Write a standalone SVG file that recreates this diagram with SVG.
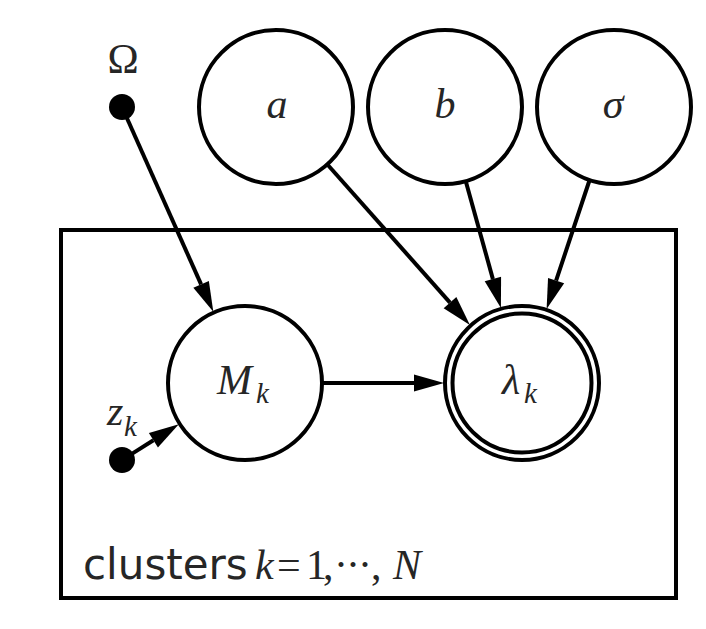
<svg xmlns="http://www.w3.org/2000/svg" width="706" height="629" viewBox="0 0 706 629">
<style>
.node{fill:#fff;stroke:#000;stroke-width:4}
.dot{fill:#000}
.edge{stroke:#000;stroke-width:4;fill:none;marker-end:url(#ah)}
.m{font-family:"Liberation Serif",serif;font-style:italic;font-size:42px;fill:#262626}
.r{font-family:"Liberation Serif",serif;font-size:42px;fill:#262626}
.s{font-family:"Liberation Serif",serif;font-style:italic;font-size:29px;fill:#262626}
.lab{font-family:"DejaVu Sans",sans-serif;font-size:42px;fill:#262626}
</style>
<defs>
<marker id="ah" markerUnits="userSpaceOnUse" markerWidth="32" markerHeight="20" refX="0" refY="8.5" orient="auto" overflow="visible">
<path d="M0,0 L30,8.5 L0,17 Z" fill="#000"/>
</marker>
</defs>
<rect width="706" height="629" fill="#fff"/>
<g id="plate">
<rect x="61" y="230" width="615" height="368" fill="none" stroke="#000" stroke-width="4"/>
<text class="lab" x="83" y="579">clusters</text>
<text class="m" x="255" y="579">k</text>
<text class="r" x="277 306 323 334 346 358 371" y="579">=1,···,</text>
<text class="m" x="393" y="579" font-size="46">N</text>
</g>
<g id="edges">
<line class="edge" x1="126.9" y1="118" x2="201.1" y2="284.4"/>
<line class="edge" x1="132.2" y1="453.6" x2="153.4" y2="440.3"/>
<line class="edge" x1="323" y1="383" x2="414" y2="383"/>
<line class="edge" x1="327" y1="164" x2="450" y2="302.6"/>
<line class="edge" x1="465.7" y1="181" x2="492.9" y2="279.1"/>
<line class="edge" x1="589.6" y1="180" x2="556.1" y2="280.6"/>
</g>
<g id="omega">
<circle class="dot" cx="122" cy="107" r="13"/>
<text class="r" x="123" y="73" text-anchor="middle" font-size="44">Ω</text>
</g>
<g id="a">
<circle class="node" cx="276" cy="107" r="77"/>
<text class="m" x="277" y="118" text-anchor="middle">a</text>
</g>
<g id="b">
<circle class="node" cx="445" cy="107" r="77"/>
<text class="m" x="445" y="118" text-anchor="middle">b</text>
</g>
<g id="sigma">
<circle class="node" cx="614" cy="107" r="77"/>
<text class="m" x="613" y="118" text-anchor="middle">σ</text>
</g>
<g id="Mk">
<circle class="node" cx="245" cy="383" r="77"/>
<text class="m" x="217" y="394" font-size="45">M</text>
<text class="s" x="256" y="403">k</text>
</g>
<g id="lambdak">
<circle class="node" cx="522" cy="383" r="77"/>
<circle cx="522" cy="383" r="69.5" fill="none" stroke="#000" stroke-width="4"/>
<text class="m" x="502" y="394">λ</text>
<text class="s" x="524" y="403">k</text>
</g>
<g id="zk">
<circle class="dot" cx="122" cy="460" r="13"/>
<text class="m" x="107" y="425">z</text>
<text class="s" x="124" y="436">k</text>
</g>
</svg>
